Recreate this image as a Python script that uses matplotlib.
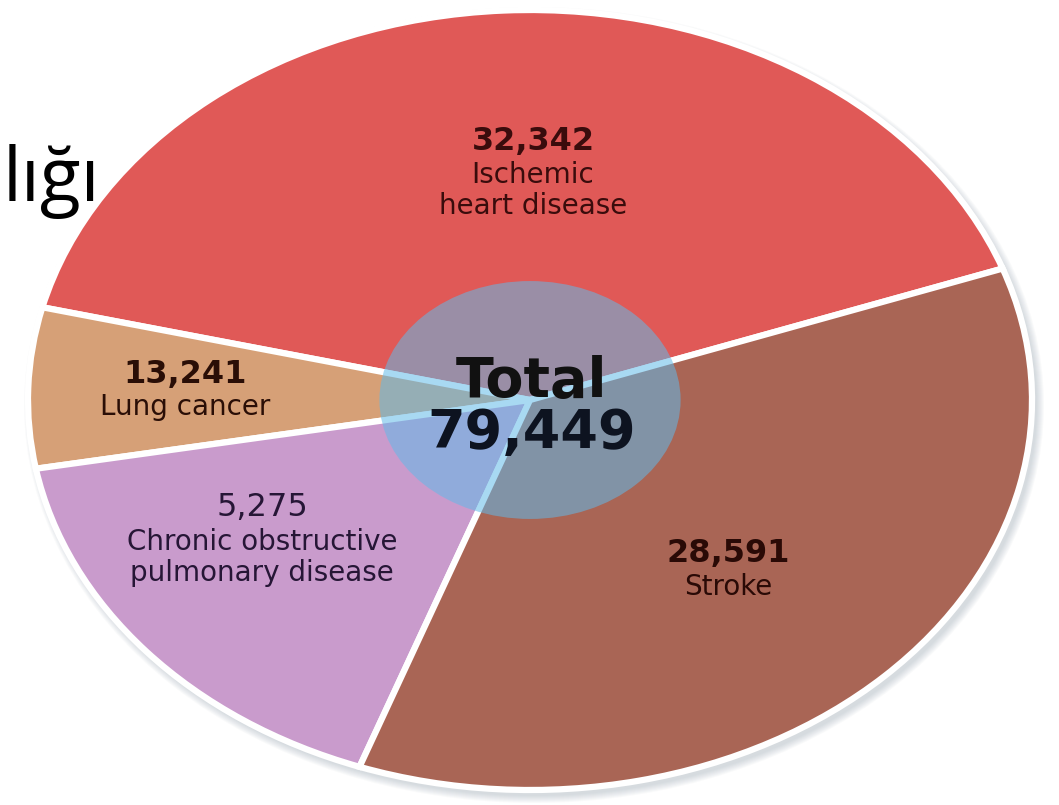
import matplotlib.pyplot as plt
from matplotlib.patches import Ellipse

# slices as drawn, counter-clockwise from the right-hand boundary
slice_values = [32342, 5275, 13241, 28591]
slice_colors = ['#E05957', '#D6A077', '#C99BCC', '#A96555']

# label texts as printed on the chart
label_numbers = ['32,342', '13,241', '5,275', '28,591']
label_names = [['Ischemic', 'heart disease'], ['Lung cancer'],
               ['Chronic obstructive', 'pulmonary disease'], ['Stroke']]
total = sum(slice_values)

W, H = 1059, 805
fig = plt.figure(figsize=(W / 100, H / 100), dpi=100)
ax = fig.add_axes([0, 0, 1, 1])

# soft shadow round the pie
for d in range(1, 9):
    ax.add_patch(Ellipse((4 / 502, -5 / 390), 2 + 2 * d / 502, 2 + 2 * d / 390,
                         color='#8090a0', alpha=0.045, lw=0, zorder=0))

wedges, _ = ax.pie(slice_values, colors=slice_colors, startangle=19.7, counterclock=True,
                   wedgeprops=dict(edgecolor='white', linewidth=4.5))
ax.set_aspect('auto')
ax.set_xlim(-530 / 502, (W - 530) / 502)
ax.set_ylim(-(H - 400) / 390, 400 / 390)
ax.axis('off')

# translucent centre disc
ax.add_patch(Ellipse((0, 0), 0.6, 0.61, color='#61BAE9', alpha=0.55, lw=0, zorder=5))


def put(x, y, s, **kw):
    fig.text(x / W, 1 - y / H, s, ha='center', va='baseline', family='DejaVu Sans', **kw)


# number, name lines: (x, number baseline, name baselines, colour, number weight)
spots = [(533, 150, [183, 214], '#3a0c0c', 'bold'),
         (185, 383, [415], '#2a0e06', 'bold'),
         (262, 516, [550, 581], '#261636', 'normal'),
         (728, 562, [595], '#2a0a06', 'bold')]
for (x, yn, ys, c, wt), num, names in zip(spots, label_numbers, label_names):
    put(x, yn, num, fontsize=23, fontweight=wt, color=c)
    for y, s in zip(ys, names):
        put(x, y, s, fontsize=20, color=c)

put(532, 397, 'Total', fontsize=40, fontweight='bold', color='#111111', zorder=6)
put(532, 448, f'{total:,}', fontsize=39, fontweight='bold', color='#0d1320', zorder=6)

fig.text(3 / W, 1 - 201 / H, 'lığı', family='Open Sans', fontsize=54, color='black',
         ha='left', va='baseline')

fig.savefig('out.png', dpi=100)
